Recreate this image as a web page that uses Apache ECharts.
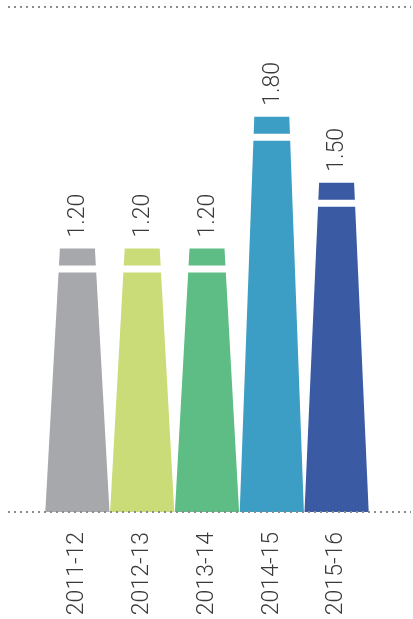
<!DOCTYPE html>
<html>
<head>
<meta charset="utf-8">
<script src="https://cdn.jsdelivr.net/npm/echarts@6/dist/echarts.min.js"></script>
<style>
  html, body { margin: 0; padding: 0; background: #fff; }
  #chart { width: 413px; height: 619px; }
</style>
</head>
<body>
<div id="chart"></div>
<script>
// Financial years and their values
const categories = ['2011-12', '2012-13', '2013-14', '2014-15', '2015-16'];
const values = [1.20, 1.20, 1.20, 1.80, 1.50];
const barColors = ['#a7a8ab', '#c9dc78', '#5dbd84', '#3c9ec4', '#3a5aa4'];

const FONT = 'Roboto, "Open Sans", sans-serif';
const W = 413, H = 619;
const gridTop = 7, gridBottom = 512;

const chart = echarts.init(document.getElementById('chart'), null, { renderer: 'canvas' });

// Tapered column: narrow top, full-band base, with a small cap split off by a white gap
function renderTaper(params, api) {
  const idx = api.value(0);
  const v = api.value(1);
  const top = api.coord([idx, v]);
  const base = api.coord([idx, 0]);
  const band = api.size([1, 0])[0];
  const cx = top[0], yTop = top[1], yBot = base[1];
  const wTop = band * 0.54, wBot = band - 0.6;
  const half = y => (wTop + (wBot - wTop) * (y - yTop) / (yBot - yTop)) / 2;
  const capB = yTop + 17, bodyT = yTop + 24;
  const color = barColors[params.dataIndex];
  const quad = (y0, y1) => [
    [cx - half(y0), y0], [cx + half(y0), y0],
    [cx + half(y1), y1], [cx - half(y1), y1]
  ];
  return {
    type: 'group',
    children: [
      { type: 'polygon', shape: { points: quad(yTop, capB) }, style: { fill: color } },
      { type: 'polygon', shape: { points: quad(bodyT, yBot) }, style: { fill: color } },
      {
        type: 'text', x: cx + 1, y: yTop - 11, rotation: Math.PI / 2,
        style: {
          text: v.toFixed(2), align: 'left', verticalAlign: 'middle',
          fontFamily: FONT, fontSize: 23, fontWeight: 300, fill: '#3a3a3a'
        }
      }
    ]
  };
}

chart.setOption({
  animation: false,
  grid: {
    left: 45, right: 44, top: gridTop, bottom: H - gridBottom,
    outerBoundsMode: 'none', containLabel: false
  },
  xAxis: {
    type: 'category',
    data: categories,
    axisLine: { show: false },
    axisTick: { show: false },
    axisLabel: {
      rotate: 90, margin: 20, interval: 0,
      fontFamily: FONT, fontSize: 23, fontWeight: 300, color: '#3a3a3a'
    }
  },
  yAxis: { type: 'value', min: 0, max: 2.3, show: false },
  graphic: [
    { type: 'line', shape: { x1: 8, y1: gridTop, x2: 411, y2: gridTop },
      style: { stroke: '#8c8c8c', lineWidth: 2, lineDash: [2, 4] } },
    { type: 'line', shape: { x1: 8, y1: gridBottom, x2: 411, y2: gridBottom },
      style: { stroke: '#8c8c8c', lineWidth: 2, lineDash: [2, 4] }, z: 10 }
  ],
  series: [{
    type: 'custom',
    renderItem: renderTaper,
    encode: { x: 0, y: 1 },
    data: values.map((v, i) => [i, v])
  }]
});
</script>
</body>
</html>
